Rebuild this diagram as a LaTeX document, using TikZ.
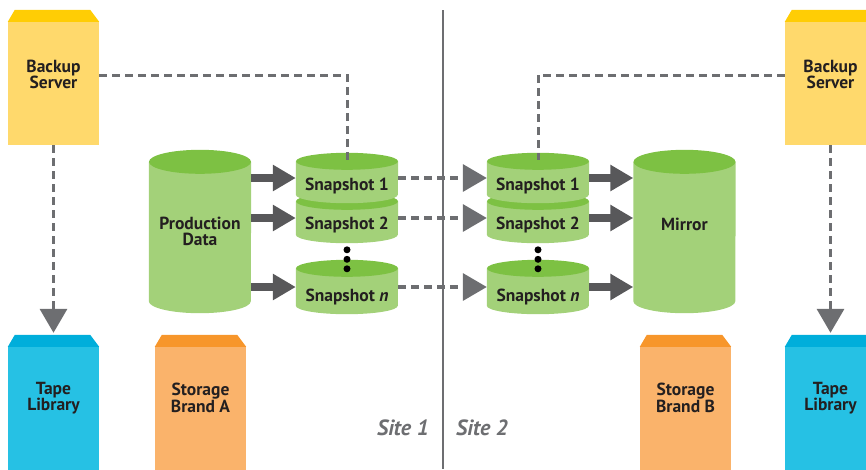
\documentclass[tikz,border=0pt]{standalone}
\usepackage{fontspec}
\setmainfont{PT Sans}
\usetikzlibrary{positioning,arrows.meta,backgrounds}
\definecolor{cYellow}{HTML}{FFD96C}
\definecolor{cYellowTop}{HTML}{FFCD05}
\definecolor{cBlue}{HTML}{26C1E4}
\definecolor{cBlueTop}{HTML}{00AEDB}
\definecolor{cOrange}{HTML}{FAB36B}
\definecolor{cOrangeTop}{HTML}{F7962B}
\definecolor{cGreen}{HTML}{A3D179}
\definecolor{cGreenTop}{HTML}{7DC143}
\definecolor{cArrow}{HTML}{58585A}
\definecolor{cDash}{HTML}{6D6E71}
\definecolor{cText}{HTML}{231F20}
\tikzset{
  node-dev/.style={rectangle,fill=#1,minimum width=91pt,inner sep=0pt},
  node-drum/.style={rectangle,minimum width=102pt,inner sep=0pt},
  lbl/.style={font=\bfseries\fontsize{17.5}{16}\selectfont,text=cText,
    align=center,inner sep=0pt},
  arrow-fat/.style={-{Triangle[length=23pt,width=25pt]},line width=8pt,
    draw=cArrow},
  arrow-dash/.style={-{Triangle[length=24pt,width=27pt]},line width=3.5pt,
    draw=cDash,dash pattern=on 8pt off 5pt},
  line-dash/.style={line width=3pt,draw=cDash,dash pattern=on 8pt off 5pt},
}
\begin{document}
\begin{tikzpicture}[x=1pt,y=-1pt]
  \useasboundingbox (0,0) rectangle (866,469);
  % servers and storage boxes
  \node[node-dev=cYellow,minimum height=123pt,
    label={[lbl,yshift=9.5pt]center:Backup\\Server}] (bkl) at (53.5,83.5) {};
  \node[node-dev=cYellow,minimum height=123pt,
    label={[lbl,yshift=9.5pt]center:Backup\\Server}] (bkr) at (830.5,83.5) {};
  \node[node-dev=cBlue,minimum height=133pt,
    label={[lbl,yshift=15.5pt]center:Tape\\Library}] (tpl) at (53.5,413.5) {};
  \node[node-dev=cOrange,minimum height=133pt,
    label={[lbl,yshift=15.5pt]center:Storage\\Brand A}] (sta) at (200.5,413.5) {};
  \node[node-dev=cOrange,minimum height=133pt,
    label={[lbl,yshift=15.5pt]center:Storage\\Brand B}] (stb) at (685.5,413.5) {};
  \node[node-dev=cBlue,minimum height=133pt,
    label={[lbl,yshift=15.5pt]center:Tape\\Library}] (tpr) at (830.5,413.5) {};
  % slanted caps on top of the boxes
  \foreach \n/\c in {bkl/cYellowTop,bkr/cYellowTop,tpl/cBlueTop,
      sta/cOrangeTop,stb/cOrangeTop,tpr/cBlueTop}
    \fill[\c] (\n.north west) -- ([xshift=7pt,yshift=12pt]\n.north west)
      -- ([xshift=-9pt,yshift=12pt]\n.north east) -- (\n.north east) -- cycle;
  % volumes, site 1
  \node[node-drum,minimum height=163pt,
    label={[lbl]center:Production\\Data}] (prod) at (200,231.5) {};
  \node[node-drum,minimum height=50pt,
    label={[lbl,yshift=-6.5pt]center:Snapshot 2}] (s2a) at (347,218) {};
  \node[node-drum,minimum height=50pt,
    label={[lbl,yshift=-8pt]center:Snapshot 1}] (s1a) at (347,178) {};
  \node[node-drum,minimum height=54pt,
    label={[lbl,yshift=-9.5pt]center:Snapshot \textit{n}}] (sna) at (347,287) {};
  % volumes, site 2
  \node[node-drum,minimum height=163pt,
    label={[lbl,yshift=7pt]center:Mirror}] (mir) at (684.5,231.5) {};
  \node[node-drum,minimum height=50pt,
    label={[lbl,yshift=-6.5pt]center:Snapshot 2}] (s2b) at (538,218) {};
  \node[node-drum,minimum height=50pt,
    label={[lbl,yshift=-8pt]center:Snapshot 1}] (s1b) at (538,178) {};
  \node[node-drum,minimum height=54pt,
    label={[lbl,yshift=-9.5pt]center:Snapshot \textit{n}}] (snb) at (538,287) {};
  % cylinder bodies and tops, behind the labels
  \begin{scope}[on background layer]
    \foreach \n/\r in {prod/12,mir/12,s2a/8.5,s1a/8.5,sna/8.5,
        s2b/8.5,s1b/8.5,snb/8.5} {
      \fill[cGreen] ([yshift=-\r pt]\n.north west)
        -- ([yshift=\r pt]\n.south west)
        arc[start angle=180,end angle=360,x radius=51pt,y radius=\r pt]
        -- ([yshift=-\r pt]\n.north east) -- cycle;
      \fill[cGreenTop] ([yshift=-\r pt]\n.north)
        ellipse[x radius=51pt,y radius=\r pt];
    }
  \end{scope}
  % ellipsis dots
  \foreach \n in {sna,snb}
    \foreach \d in {10,0.5,-9}
      \fill[black] ([yshift=\d pt]\n.north) circle (3.5pt);
  % copy arrows
  \foreach \s in {s1a,s2a,sna}
    \draw[arrow-fat] (prod.east |- \s) -- (\s.west);
  \foreach \s in {s1b,s2b,snb}
    \draw[arrow-fat] (\s.east) -- (mir.west |- \s);
  \draw[arrow-dash] (s1a.east) -- (s1b.west);
  \draw[arrow-dash] (s2a.east) -- (s2b.west);
  \draw[arrow-dash] (sna.east) -- (snb.west);
  % backup paths
  \draw[line-dash] ([yshift=8.5pt]bkl.east) -| ([yshift=-7pt]s1a.north);
  \draw[line-dash] ([yshift=8.5pt]bkr.west) -| ([yshift=-7pt]s1b.north);
  \draw[arrow-dash] (bkl.south) -- ([yshift=14pt]tpl.north);
  \draw[arrow-dash] (bkr.south) -- ([yshift=14pt]tpr.north);
  % site divider
  \draw[cDash,line width=2pt] (443,10) -- (443,469);
  \node[anchor=east,font=\bfseries\itshape\fontsize{22}{22}\selectfont,
    text=cDash,inner sep=0pt] (site1) at (429,428) {Site 1};
  \node[anchor=west,font=\bfseries\itshape\fontsize{22}{22}\selectfont,
    text=cDash,inner sep=0pt] (site2) at (456,428) {Site 2};
\end{tikzpicture}
\end{document}
